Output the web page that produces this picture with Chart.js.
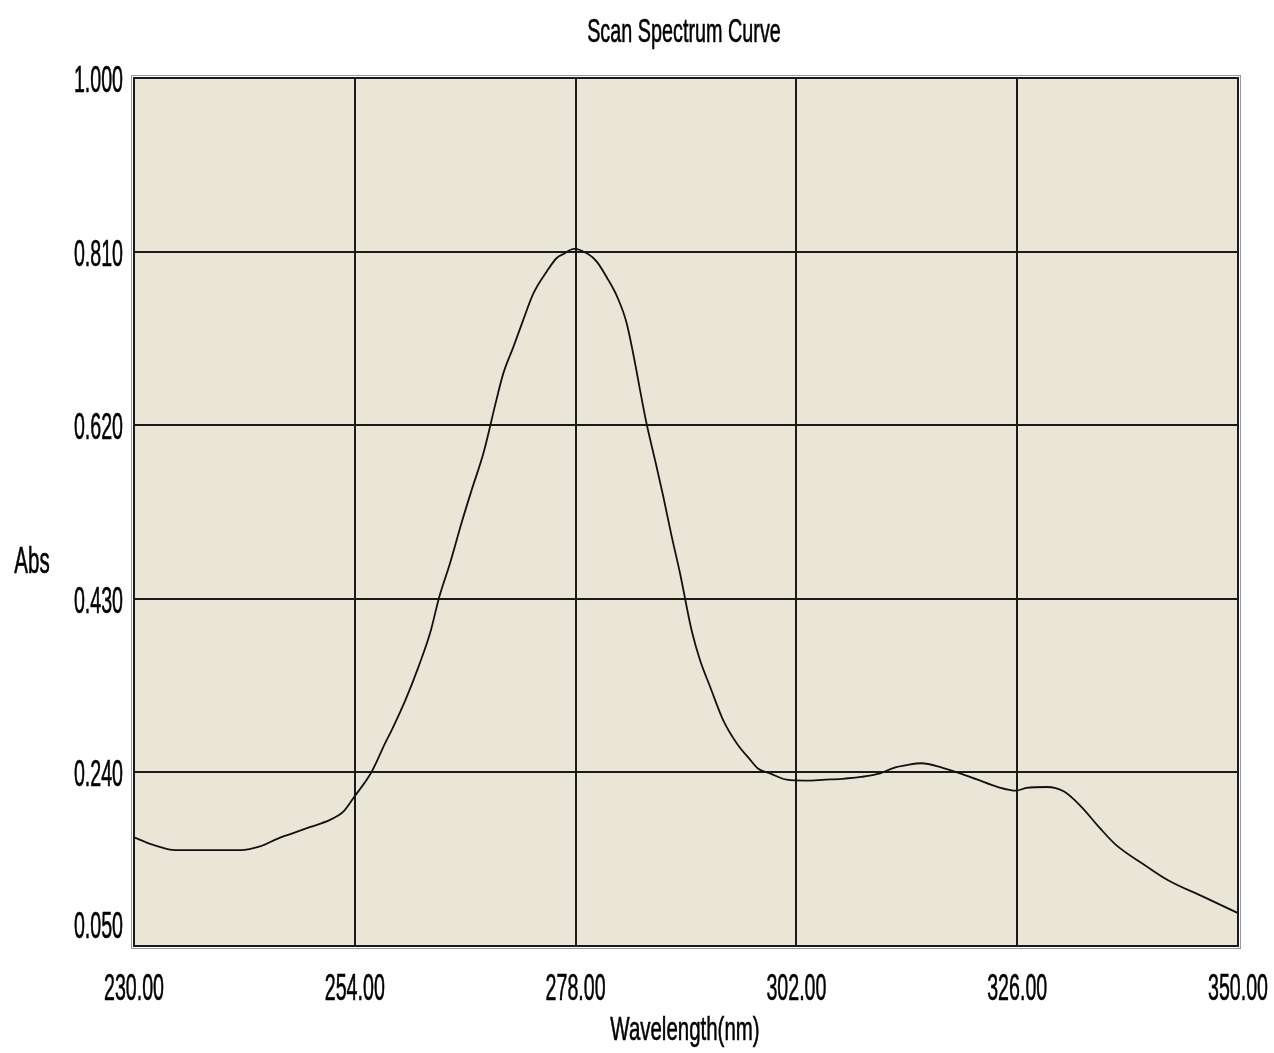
<!DOCTYPE html>
<html>
<head>
<meta charset="utf-8">
<script src="https://cdn.jsdelivr.net/npm/chart.js@4.4.1/dist/chart.umd.min.js"></script>
<style>
    body { margin: 0; background: #ffffff; }
    #wrap { width: 1274px; height: 1053px; }
</style>
</head>
<body>
<div id="wrap"><canvas id="spectrum-chart" width="1274" height="1053"></canvas></div>
<script>
// wavelength (nm) and absorbance
const wavelengths = [230, 232, 234.5, 238, 241.6, 243.7, 245.5, 247, 249.1, 251.3, 252.75, 253.85, 255.85, 257.3,
    258, 259.5, 260.9, 262.2, 263.15, 264.35, 265.6, 266.7, 268, 269.4, 270.15, 271.25, 272.3, 273.4,
    274.85, 275.95, 276.6, 277.85, 279.4, 280.3, 281.55, 282.5, 283.55, 285.73, 286.63, 287.53, 288.45,
    289.35, 290.62, 291.52, 292.61, 294.05, 295.51, 296.96, 297.86, 299.13, 300.95, 303, 305.1, 307,
    309, 311.1, 312.6, 314, 315.6, 317.9, 319.8, 321.7, 323.9, 325.9, 327, 329.2, 331.1, 333, 334.9, 336.7,
    339.8, 342.4, 346.2, 350];
const absorbance = [0.169, 0.161, 0.155, 0.155, 0.155, 0.159, 0.167, 0.1725, 0.180, 0.188, 0.197, 0.212, 0.241, 0.272,
    0.286, 0.319, 0.355, 0.393, 0.431, 0.469, 0.513, 0.549, 0.590, 0.648, 0.677, 0.706, 0.735, 0.764,
    0.788, 0.803, 0.807, 0.813, 0.807, 0.799, 0.779, 0.761, 0.7315, 0.621, 0.582, 0.542, 0.498,
    0.458, 0.395, 0.363, 0.334, 0.297, 0.272, 0.254, 0.244, 0.239, 0.232, 0.231, 0.232, 0.233,
    0.235, 0.239, 0.245, 0.248, 0.250, 0.245, 0.239, 0.232, 0.224, 0.220, 0.223, 0.224, 0.219, 0.202, 0.180, 0.161,
    0.139, 0.122, 0.104, 0.086];

const xTicks = [230, 254, 278, 302, 326, 350];
const yTicks = [0.050, 0.240, 0.430, 0.620, 0.810, 1.000];

const chartTitle = 'Scan Spectrum Curve';
const xTitle = 'Wavelength(nm)';
const yTitle = 'Abs';

const tickFont = '36px "Liberation Sans", Arial, sans-serif';
const titleFont = '33px "Liberation Sans", Arial, sans-serif';

// the original uses a tall, narrow bitmap font, so squeeze the text sideways
function squeezedText(ctx, text, x, y, align, squeeze) {
    ctx.save();
    ctx.translate(x, y);
    ctx.scale(squeeze, 1);
    ctx.textAlign = align;
    ctx.textBaseline = 'alphabetic';
    ctx.fillText(text, 0, 0);
    ctx.strokeText(text, 0, 0); // a touch heavier, like the screen font
    ctx.restore();
}

const plotBackground = {
    id: 'plotBackground',
    beforeDraw(chart) {
        const {ctx, chartArea: {left, top, width, height}} = chart;
        ctx.save();
        ctx.fillStyle = '#eae6d7';
        ctx.fillRect(left, top, width, height);
        ctx.restore();
    }
};

const frameAndText = {
    id: 'frameAndText',
    afterDraw(chart) {
        const {ctx, chartArea: {left, top, right, bottom}, scales: {x, y}} = chart;
        ctx.save();
        // frame with a light shadow like the original control
        ctx.strokeStyle = '#9a9a9a';
        ctx.lineWidth = 1;
        ctx.strokeRect(left - 2.5, top - 2.5, right - left + 5, bottom - top + 5);
        ctx.strokeStyle = '#1a1a1a';
        ctx.lineWidth = 2;
        ctx.strokeRect(left, top, right - left, bottom - top);

        ctx.fillStyle = '#000000';
        ctx.strokeStyle = '#000000';
        ctx.lineWidth = 0.6;
        ctx.font = tickFont;
        yTicks.forEach((v, i) => {
            let py = y.getPixelForValue(v) + 14;
            if (i === 0) py = bottom - 8; // bottom label sits above the frame edge
            squeezedText(ctx, v.toFixed(3), left - 11, py, 'right', 0.545);
        });
        xTicks.forEach(v => {
            squeezedText(ctx, v.toFixed(2), x.getPixelForValue(v), bottom + 54, 'center', 0.545);
        });

        ctx.font = titleFont;
        squeezedText(ctx, chartTitle, 684, 42, 'center', 0.6);
        squeezedText(ctx, xTitle, 685, bottom + 94, 'center', 0.62);
        ctx.font = tickFont;
        squeezedText(ctx, yTitle, 32, 573, 'center', 0.57);
        ctx.restore();
    }
};

const ctx = document.getElementById('spectrum-chart').getContext('2d');

const spectrumChart = new Chart(ctx, {
    type: 'line',
    data: {
        datasets: [{
            label: 'Abs',
            data: wavelengths.map((w, i) => ({x: w, y: absorbance[i]})),
            borderColor: '#111111',
            borderWidth: 1.8,
            pointRadius: 0,
            cubicInterpolationMode: 'monotone',
            fill: false
        }]
    },
    options: {
        responsive: false,
        animation: false,
        layout: {
            padding: {top: 78, right: 36, left: 0, bottom: 0}
        },
        scales: {
            x: {
                type: 'linear',
                min: 230,
                max: 350,
                afterBuildTicks: scale => { scale.ticks = xTicks.map(v => ({value: v})); },
                afterFit: scale => { scale.height = 107; },
                grid: {color: '#1a1a1a', lineWidth: 2, drawTicks: false},
                border: {display: false},
                ticks: {display: false}
            },
            y: {
                type: 'linear',
                min: 0.05,
                max: 1.0,
                afterBuildTicks: scale => { scale.ticks = yTicks.map(v => ({value: v})); },
                afterFit: scale => { scale.width = 134; },
                grid: {color: '#1a1a1a', lineWidth: 2, drawTicks: false},
                border: {display: false},
                ticks: {display: false}
            }
        },
        plugins: {
            legend: {display: false},
            tooltip: {enabled: false}
        }
    },
    plugins: [plotBackground, frameAndText]
});
</script>
</body>
</html>
